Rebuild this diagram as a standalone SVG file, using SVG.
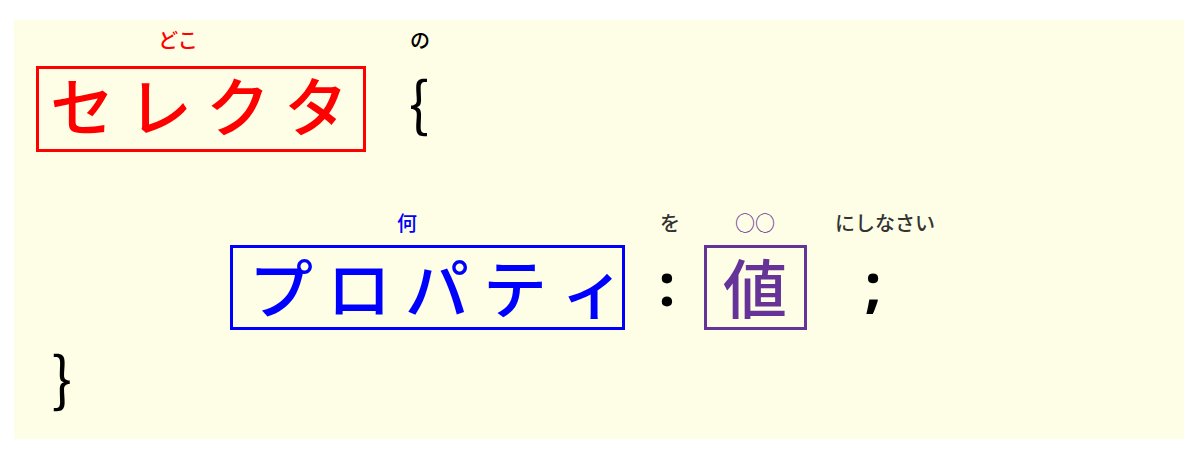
<svg xmlns="http://www.w3.org/2000/svg" width="1200" height="455" viewBox="0 0 1200 455">
<style>
.big{font-family:"Noto Sans CJK JP","Noto Sans",sans-serif;font-size:64px;font-weight:500}
.lbl{font-family:"Noto Sans CJK JP","Noto Sans",sans-serif;font-size:20px;font-weight:500;text-anchor:middle}
.punct{font-family:"Noto Sans","DejaVu Sans",sans-serif;font-weight:bold;font-size:60px;text-anchor:middle}
.brace{font-family:"Noto Sans CJK JP",sans-serif;font-size:60px;text-anchor:middle}
.box{fill:none;stroke-width:3}
</style>
<rect x="14" y="20" width="1170" height="419" fill="#FEFEE6"/>
<g id="selector">
<rect class="box" x="37.5" y="67.5" width="327" height="83" stroke="#FF0000"/>
<text class="big" fill="#FF0000" x="50 128 206 284" y="131">セレクタ</text>
<text class="lbl" fill="#FF0000" x="178" y="48">どこ</text>
</g>
<g id="open-brace">
<text class="lbl" fill="#000" x="420" y="48">の</text>
<text class="brace" fill="#000" x="419" y="126">{</text>
</g>
<g id="property">
<rect class="box" x="231.5" y="246.5" width="392" height="82" stroke="#0000FF"/>
<text class="big" fill="#0000FF" x="249 327 405 483 561" y="313">プロパティ</text>
<text class="lbl" fill="#0000FF" x="407" y="231">何</text>
</g>
<g id="colon">
<text class="lbl" fill="#333" x="670" y="231">を</text>
<text class="punct" fill="#000" x="667" y="306">:</text>
</g>
<g id="value">
<rect class="box" x="705.5" y="246.5" width="100" height="82" stroke="#663399"/>
<text class="big" fill="#663399" x="755" y="313" text-anchor="middle">値</text>
<text class="lbl" fill="#663399" x="755" y="231">○○</text>
</g>
<g id="semicolon">
<text class="lbl" fill="#333" x="885" y="231">にしなさい</text>
<text class="punct" fill="#000" x="873" y="306">;</text>
</g>
<g id="close-brace">
<text class="brace" fill="#000" x="62" y="401">}</text>
</g>
<g id="connectors"/>
</svg>
